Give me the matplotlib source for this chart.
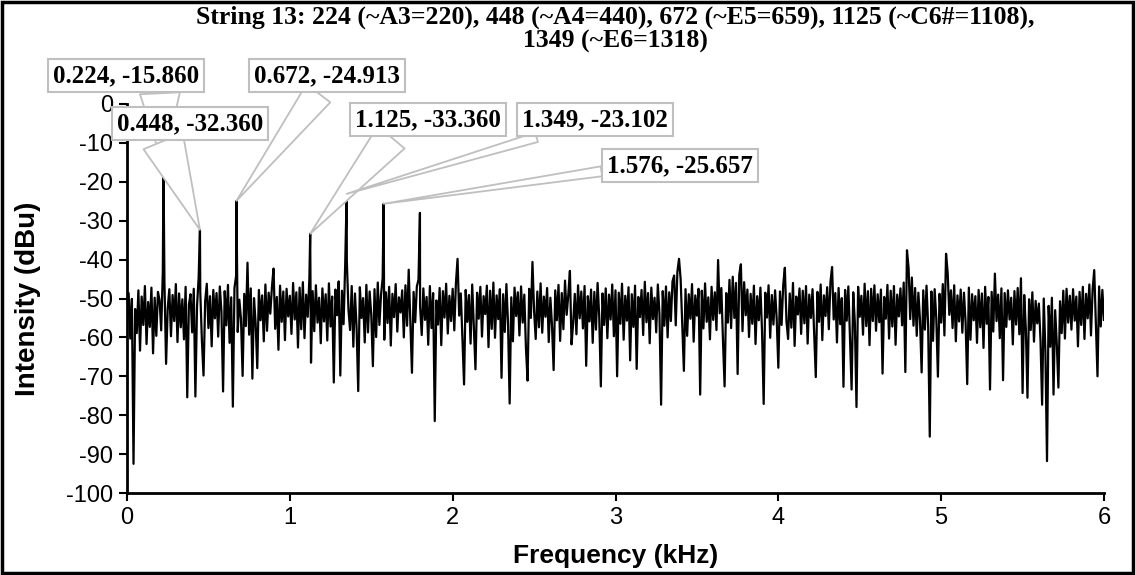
import matplotlib
matplotlib.use("Agg")
import matplotlib.pyplot as plt
import numpy as np
from matplotlib.patches import Rectangle

plt.rcParams['font.family'] = ['Liberation Sans', 'DejaVu Sans']
plt.rcParams['axes.unicode_minus'] = False

title = ("String 13: 224 (~A3=220), 448 (~A4=440), 672 (~E5=659), 1125 (~C6#=1108),\n"
         "1349 (~E6=1318)")

# noise floor, one value every 0.01 kHz from 0 to 6 kHz
bin_khz = 0.01
noise_db = [
    -55.2, -48.6, -60.3, -50.1, -92.5, -52.7, -58.9, -47.9, -63.4, -49.5, -56.8, -46.8, -61.7, -50.9, -57.3, -47.2, -64.1, -49.8, -59.6, -48.3,  # 0.0
    -50.4, -58.2, -43.1, -45.9, -66.8, -52.5, -47.6, -59.7, -49.1, -55.8, -46.3, -61.2, -48.7, -57.4, -50.2, -60.5, -47.0, -75.4, -51.6, -48.9,  # 0.2
    -58.7, -47.5, -75.2, -52.0, -44.6, -48.3, -60.9, -69.8, -50.7, -46.2, -57.6, -49.4, -62.3, -47.8, -55.1, -48.6, -59.8, -46.9, -53.4, -73.9,  # 0.4
    -48.1, -56.9, -46.5, -61.4, -49.7, -77.8, -47.3, -44.2, -58.6, -50.3, -55.2, -69.9, -48.8, -57.1, -40.8, -59.3, -47.4, -70.6, -49.9, -56.4,  # 0.6
    -67.9, -47.8, -55.6, -49.2, -61.0, -46.4, -58.3, -48.5, -53.9, -47.1, -42.3, -57.8, -49.6, -63.2, -46.7, -56.0, -48.2, -60.7, -47.5, -54.6,  # 0.8
    -49.3, -59.1, -46.0, -55.4, -48.4, -62.6, -47.2, -57.9, -45.8, -60.2, -49.0, -54.7, -44.9, -66.5, -48.1, -58.4, -46.6, -56.2, -49.8, -61.5,  # 1.0
    -47.4, -55.9, -48.9, -60.8, -46.1, -57.2, -49.5, -71.6, -47.7, -54.3, -45.6, -69.8, -48.0, -56.6, -41.2, -40.3, -52.8, -58.1, -46.8, -62.4,  # 1.2
    -48.7, -57.5, -73.8, -47.1, -55.0, -49.9, -61.3, -46.5, -58.7, -48.2, -54.1, -67.4, -47.6, -59.9, -45.9, -56.8, -49.1, -44.7, -60.6, -48.4,  # 1.4
    -56.3, -47.0, -62.1, -48.8, -54.8, -46.3, -58.5, -49.7, -53.6, -47.9, -60.0, -46.6, -57.0, -42.6, -55.7, -69.1, -48.3, -56.1, -46.9, -45.2,  # 1.6
    -52.1, -59.4, -47.4, -55.5, -49.6, -61.9, -46.8, -57.6, -48.6, -81.5, -50.5, -56.7, -47.3, -62.0, -48.1, -54.9, -46.2, -59.0, -49.3, -55.8,  # 1.8
    -47.5, -58.2, -46.0, -39.8, -54.4, -48.7, -60.3, -72.1, -47.8, -56.0, -49.1, -61.6, -46.4, -57.3, -68.2, -48.5, -55.2, -47.0, -59.8, -49.4,  # 2.0
    -54.0, -46.7, -62.5, -48.0, -57.8, -45.9, -60.1, -49.2, -55.3, -47.6, -70.4, -48.9, -58.6, -46.3, -56.4, -77.0, -49.7, -61.0, -47.2, -54.5,  # 2.2
    -48.4, -59.5, -46.9, -56.2, -49.0, -62.8, -71.1, -47.5, -55.0, -40.6, -53.2, -60.4, -48.2, -57.4, -46.1, -58.8, -49.5, -54.7, -47.3, -61.2,  # 2.4
    -49.8, -56.9, -68.4, -47.9, -55.6, -46.5, -60.9, -48.6, -57.9, -45.4, -54.2, -49.1, -42.9, -61.8, -56.3, -48.8, -59.2, -46.6, -55.1, -48.2,  # 2.6
    -57.7, -46.8, -67.3, -49.4, -55.9, -47.7, -61.4, -48.3, -58.0, -46.0, -54.6, -72.6, -48.7, -56.8, -47.4, -60.2, -49.0, -55.4, -46.4, -59.7,  # 2.8
    -47.9, -70.0, -48.5, -56.5, -46.2, -60.6, -49.3, -55.7, -47.1, -65.9, -48.9, -57.3, -46.7, -68.1, -49.6, -54.8, -47.8, -59.4, -45.7, -56.1,  # 3.0
    -48.6, -61.5, -47.2, -55.3, -49.8, -58.7, -46.4, -54.0, -77.3, -48.1, -57.0, -46.9, -60.0, -48.4, -55.8, -45.6, -44.1, -56.9, -43.2, -39.8,  # 3.2
    -45.0, -56.6, -68.6, -47.6, -59.6, -48.9, -55.2, -46.3, -61.1, -49.2, -54.4, -47.5, -74.7, -48.0, -57.7, -46.1, -56.0, -49.7, -60.5, -47.0,  # 3.4
    -55.5, -48.4, -58.1, -40.1, -53.8, -47.3, -60.8, -72.6, -48.6, -56.2, -45.2, -57.6, -44.4, -55.0, -46.0, -69.4, -43.9, -41.2, -58.4, -45.8,  # 3.6
    -54.3, -47.7, -59.9, -48.8, -56.5, -46.7, -61.7, -49.4, -55.6, -47.2, -58.6, -77.1, -48.5, -54.9, -46.6, -60.1, -49.1, -56.7, -47.9, -55.3,  # 3.8
    -67.8, -48.2, -56.8, -46.5, -42.1, -55.9, -60.4, -48.7, -57.5, -46.0, -62.2, -49.5, -54.1, -47.4, -59.1, -48.0, -56.4, -46.8, -61.6, -49.0,  # 4.0
    -55.0, -47.6, -58.9, -70.2, -48.3, -56.0, -46.4, -60.7, -49.2, -54.5, -47.1, -57.9, -45.8, -41.9, -55.4, -48.6, -61.3, -47.3, -56.6, -49.9,  # 4.2
    -72.7, -47.8, -55.7, -46.9, -60.0, -73.4, -48.4, -56.3, -77.9, -47.0, -54.7, -49.3, -59.3, -46.2, -57.1, -48.1, -62.0, -47.5, -55.8, -46.6,  # 4.4
    -58.3, -48.9, -56.1, -47.7, -69.3, -49.6, -55.2, -46.5, -60.3, -48.0, -57.2, -46.8, -61.9, -49.0, -54.6, -47.4, -56.9, -45.9, -68.9, -37.6,  # 4.6
    -42.2, -55.3, -44.6, -57.0, -47.3, -59.6, -48.5, -55.5, -69.0, -47.9, -58.0, -46.7, -56.9, -85.5, -48.2, -60.9, -47.6, -55.1, -70.1, -48.8,  # 4.8
    -56.2, -46.3, -59.5, -38.5, -43.4, -54.2, -47.9, -57.6, -46.6, -61.0, -49.2, -55.9, -47.7, -58.8, -48.5, -56.1, -72.0, -47.2, -60.6, -48.9,  # 5.0
    -55.6, -49.4, -61.4, -47.8, -57.4, -48.7, -62.7, -47.0, -56.5, -49.6, -73.4, -48.3, -58.5, -43.6, -55.8, -49.0, -60.2, -47.4, -71.0, -48.6,  # 5.2
    -57.3, -47.9, -55.4, -49.8, -61.8, -48.1, -56.7, -47.3, -59.2, -44.8, -74.3, -49.1, -57.8, -75.5, -50.2, -58.1, -48.4, -61.1, -50.6, -56.4,  # 5.4
    -51.3, -60.7, -77.3, -50.0, -63.5, -91.8, -51.9, -62.4, -49.8, -74.7, -53.0, -61.6, -72.9, -50.7, -58.9, -48.0, -60.3, -47.5, -56.2, -49.3,  # 5.6
    -58.0, -47.6, -55.7, -49.5, -62.3, -48.3, -56.8, -47.0, -60.4, -48.8, -55.1, -46.4, -59.5, -47.7, -42.7, -56.5, -70.0, -46.9, -57.2, -47.8,  # 5.8
    -55.5,  # 6.0
]

# harmonic peaks
peak_khz = [0.224, 0.448, 0.672, 1.125, 1.349, 1.576, 1.799]
peak_db = [-15.860, -32.360, -24.913, -33.360, -23.102, -25.657, -28.0]
n_labelled = 6

# callout layout: box centre (kHz, dB), where the wedge leaves the box, wedge width
box_pos = [(-0.006, 7.2), (0.387, -5.1), (1.229, 7.2), (1.849, -4.1), (2.875, -4.1), (3.397, -15.9)]
wedge_rel = [(0.73, 0.0), (0.30, 0.0), (0.47, 0.0), (0.28, 0.0), (0.23, 0.0), (0.0, 0.3)]
wedge_w = [1.6, 1.7, 1.2, 1.4, 0.4, 0.4]


def plot_spectrum():
    noise_khz = np.round(np.arange(len(noise_db)) * bin_khz, 3)
    f = np.concatenate([noise_khz, peak_khz])
    d = np.concatenate([noise_db, peak_db])
    order = np.argsort(f, kind='stable')

    fig = plt.figure(figsize=(11.35, 5.75), dpi=100)
    ax = fig.add_axes([127 / 1135, 1 - 493 / 575, 977 / 1135, 389 / 575])
    ax.plot(f[order], d[order], color='black', lw=1.6, zorder=2)

    ax.set_xlim(0, 6)
    ax.set_ylim(-100, 0)
    ax.set_xticks(range(0, 7))
    ax.set_yticks(range(-100, 1, 10))
    for s in ['top', 'right']:
        ax.spines[s].set_visible(False)
    for s in ['left', 'bottom']:
        ax.spines[s].set_linewidth(2)
    ax.tick_params(direction='out', length=6, width=1.5, labelsize=17, pad=4)

    ax.set_xlabel('Frequency (kHz)', fontsize=19, fontweight='bold')
    ax.set_ylabel('Intensity (dBu)', fontsize=20, fontweight='bold')
    ax.xaxis.set_label_coords(0.5, -0.132)
    ax.yaxis.set_label_coords(-0.088, 0.5)

    fig.text(615 / 1135, 1 - 29 / 575, title, ha='center', va='center', fontsize=18.5,
             fontweight='bold', family='Liberation Serif', linespacing=1.05)

    for i in range(n_labelled):
        label = f"{peak_khz[i]:.3f}, {peak_db[i]:.3f}"
        ax.annotate(label, xy=(peak_khz[i], peak_db[i]), xytext=box_pos[i],
                    textcoords='data', ha='center', va='center', fontsize=18,
                    fontweight='bold', family='Liberation Serif',
                    bbox=dict(boxstyle='square,pad=0.2', fc='white', ec='#bfbfbf', lw=1.5),
                    arrowprops=dict(arrowstyle=f'wedge,tail_width={wedge_w[i]},shrink_factor=0.5',
                                    fc='white', ec='#bfbfbf', lw=1.3, relpos=wedge_rel[i],
                                    shrinkA=0, shrinkB=0),
                    annotation_clip=False, zorder=5 + i)

    fig.patches.append(Rectangle((0.002, 0.003), 0.996, 0.994, transform=fig.transFigure,
                                 fill=False, ec='black', lw=2.5))
    fig.savefig('out.png', dpi=100)


if __name__ == "__main__":
    plot_spectrum()
